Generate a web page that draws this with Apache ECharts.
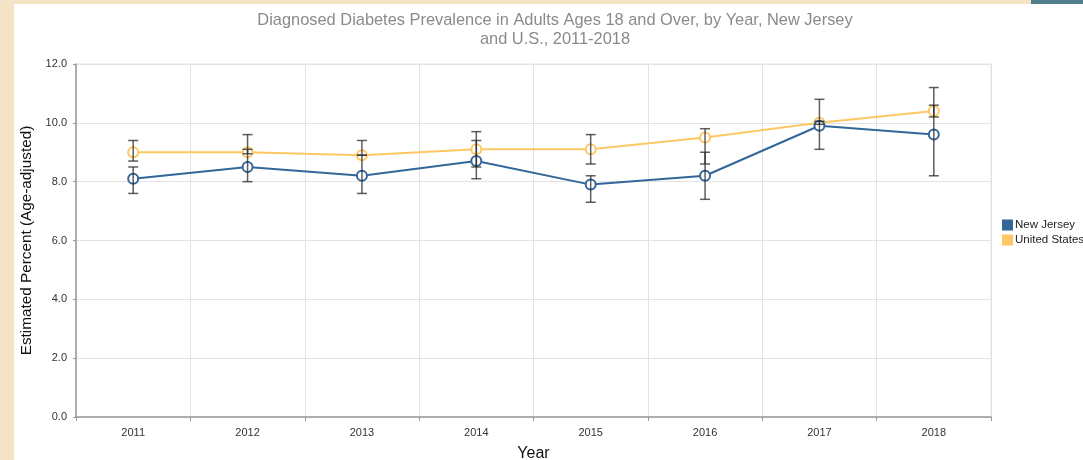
<!DOCTYPE html>
<html>
<head>
<meta charset="utf-8">
<script src="https://cdn.jsdelivr.net/npm/echarts@6/dist/echarts.min.js"></script>
<style>
  html, body { margin:0; padding:0; width:1083px; height:460px; overflow:hidden; background:#f4e3c4; }
  #strip { position:absolute; left:1031px; top:0; width:52px; height:4px; background:#4f7f8c; }
  #panel { position:absolute; left:14px; top:4px; width:1069px; height:456px; background:#ffffff; }
  #chart { width:1069px; height:456px; }
</style>
</head>
<body>
<div id="strip"></div>
<div id="panel"><div id="chart"></div></div>
<script>
const years = ['2011','2012','2013','2014','2015','2016','2017','2018'];
const njValues = [8.1, 8.5, 8.2, 8.7, 7.9, 8.2, 9.9, 9.6];
const njLow    = [7.6, 8.0, 7.6, 8.1, 7.3, 7.4, 9.1, 8.2];
const njHigh   = [8.5, 9.1, 8.9, 9.7, 8.2, 9.0, 10.8, 11.2];
const usValues = [9.0, 9.0, 8.9, 9.1, 9.1, 9.5, 10.0, 10.4];
const usLow    = [8.7, 8.95, 8.9, 8.5, 8.6, 8.6, 9.95, 10.2];
const usHigh   = [9.4, 9.6, 9.4, 9.4, 9.6, 9.8, 10.05, 10.6];
const yTicks = ['0.0','2.0','4.0','6.0','8.0','10.0','12.0'];

const errData = (lo, hi) => years.map((y, i) => [i, lo[i], hi[i]]);

function errorRender(params, api) {
  const i = api.value(0);
  const lo = api.coord([i, api.value(1)]);
  const hi = api.coord([i, api.value(2)]);
  const cap = 5;
  const style = { stroke: 'rgba(40,40,40,0.75)', lineWidth: 1.5, fill: null };
  return {
    type: 'group',
    children: [
      { type: 'line', shape: { x1: hi[0], y1: hi[1], x2: lo[0], y2: lo[1] }, style },
      { type: 'line', shape: { x1: hi[0]-cap, y1: hi[1], x2: hi[0]+cap, y2: hi[1] }, style },
      { type: 'line', shape: { x1: lo[0]-cap, y1: lo[1], x2: lo[0]+cap, y2: lo[1] }, style }
    ]
  };
}

const chart = echarts.init(document.getElementById('chart'));
chart.setOption({
  animation: false,
  textStyle: { fontFamily: 'Liberation Sans, Arial, sans-serif' },
  title: {
    text: 'Diagnosed Diabetes Prevalence in Adults Ages 18 and Over, by Year, New Jersey\nand U.S., 2011-2018',
    left: 541, top: 7, padding: 0,
    textAlign: 'center',
    textStyle: { fontSize: 16.4, fontWeight: 'normal', color: '#8a8a8a', lineHeight: 19, fontFamily: 'Liberation Sans, Arial, sans-serif' }
  },
  legend: {
    orient: 'vertical', left: 988, top: 215, padding: 0,
    itemWidth: 9, itemHeight: 9, itemGap: 3,
    icon: 'rect',
    textStyle: { fontSize: 11.5, color: '#222', padding: [0,0,0,-2] },
    data: ['New Jersey', 'United States']
  },
  grid: { left: 62, right: 92, top: 60, bottom: 43, show: true, borderColor: '#e3e3e3', borderWidth: 1, containLabel: false, outerBoundsMode: 'none' },
  xAxis: {
    type: 'category', data: years, boundaryGap: true,
    name: 'Year', nameLocation: 'middle', nameGap: 29,
    nameTextStyle: { fontSize: 16, color: '#111' },
    axisLine: { lineStyle: { color: '#999', width: 1.5 } },
    axisTick: { show: true, length: 4, lineStyle: { color: '#999' } },
    axisLabel: { fontSize: 11, color: '#333', margin: 10 },
    splitLine: { show: true, interval: 0, lineStyle: { color: '#e3e3e3' } }
  },
  yAxis: {
    type: 'value', min: 0, max: 12, interval: 2,
    name: 'Estimated Percent (Age-adjusted)', nameLocation: 'middle', nameGap: 38,
    nameTextStyle: { fontSize: 15.3, color: '#111' },
    axisLine: { show: true, lineStyle: { color: '#999', width: 1.5 } },
    axisTick: { show: true, length: 3, lineStyle: { color: '#999' } },
    axisLabel: { fontSize: 11, color: '#333', margin: 9, formatter: (v) => yTicks[Math.round(v/2)] },
    splitLine: { show: true, lineStyle: { color: '#e3e3e3' } }
  },
  series: [
    {
      name: 'United States', type: 'line', data: usValues, z: 3,
      color: '#fdc864',
      symbol: 'emptyCircle', symbolSize: 10,
      lineStyle: { width: 2, color: '#fdc864' },
      itemStyle: { color: '#fdc864', borderWidth: 2, borderColor: '#fdc864' }
    },
    {
      name: 'New Jersey', type: 'line', data: njValues, z: 4,
      color: '#336699',
      symbol: 'emptyCircle', symbolSize: 10,
      lineStyle: { width: 2, color: '#336699' },
      itemStyle: { color: '#336699', borderWidth: 2, borderColor: '#336699' }
    },
    { type: 'custom', name: 'nj-err', renderItem: errorRender, data: errData(njLow, njHigh), z: 5, encode: { x: 0, y: [1, 2] } },
    { type: 'custom', name: 'us-err', renderItem: errorRender, data: errData(usLow, usHigh), z: 5, encode: { x: 0, y: [1, 2] } }
  ]
});
</script>
</body>
</html>
